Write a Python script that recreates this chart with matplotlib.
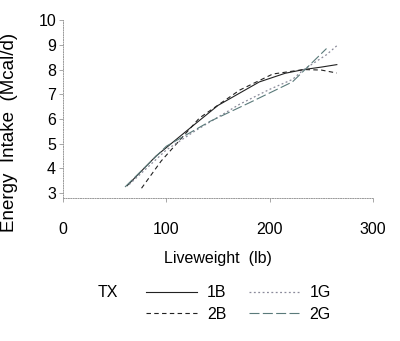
import matplotlib

matplotlib.use("Agg")
import matplotlib.pyplot as plt

# fitted intake curves per treatment, (liveweight lb, energy intake Mcal/d)
wt_1b = [62, 90, 122, 150, 190, 215, 233, 250, 265]
ei_1b = [3.3, 4.5, 5.6, 6.55, 7.5, 7.85, 8.0, 8.1, 8.2]

wt_2b = [76, 95, 132, 171, 203, 233, 250, 265]
ei_2b = [3.2, 4.3, 6.04, 7.17, 7.82, 8.0, 7.98, 7.86]

wt_1g = [64, 100, 129, 171, 200, 222, 233, 255, 266]
ei_1g = [3.35, 4.75, 5.55, 6.6, 7.2, 7.6, 8.0, 8.6, 9.0]

wt_2g = [60, 100, 142, 180, 222, 233, 255]
ei_2g = [3.25, 4.9, 5.9, 6.65, 7.5, 7.95, 8.85]

x_ticks = [0, 100, 200, 300]
y_ticks = [3, 4, 5, 6, 7, 8, 9, 10]

FONT = ["Liberation Sans", "DejaVu Sans"]

fig = plt.figure(figsize=(4.0, 3.41), dpi=100)
ax = fig.add_axes([0.1575, 0.419, 0.775, 0.522])

ax.plot(wt_1b, ei_1b, color="#222222", lw=0.8, ls="-", label="1B")
ax.plot(wt_2b, ei_2b, color="#222222", lw=0.8, ls=(0, (4, 3)), label="2B")
ax.plot(wt_1g, ei_1g, color="#8a8a9a", lw=0.9, ls=(0, (1.5, 2)), label="1G")
ax.plot(wt_2g, ei_2g, color="#5a7a7a", lw=0.8, ls=(0, (9, 3)), label="2G")

ax.set_xlim(0, 300)
ax.set_ylim(2.8, 10)
ax.set_xticks(x_ticks)
ax.set_yticks(y_ticks)
ax.set_xticklabels([str(v) for v in x_ticks], family=FONT, fontsize=11.5)
ax.set_yticklabels([str(v) for v in y_ticks], family=FONT, fontsize=11.5)
ax.tick_params(axis="both", direction="out", length=3, width=0.6, color="#999999")
ax.tick_params(axis="x", pad=14)
ax.tick_params(axis="y", pad=2)

for side in ("top", "right"):
    ax.spines[side].set_visible(False)
for side in ("left", "bottom"):
    ax.spines[side].set_linestyle((0, (1, 1.5)))
    ax.spines[side].set_color("#999999")
    ax.spines[side].set_linewidth(0.7)

ax.set_xlabel("Liveweight  (lb)", family=FONT, fontsize=11.5, labelpad=10)
ax.set_ylabel("Energy  Intake  (Mcal/d)", family=FONT, fontsize=13.5)
ax.yaxis.set_label_coords(-0.145, 0.37)

handles, labels = ax.get_legend_handles_labels()
fig.legend(
    handles, labels, ncol=2, loc="center left", bbox_to_anchor=(0.33, 0.11),
    frameon=False, prop={"family": FONT, "size": 11.5},
    handlelength=3.2, handletextpad=0.6, columnspacing=1.4, labelspacing=0.4,
)
fig.text(0.27, 0.143, "TX", family=FONT, fontsize=11.5, va="center", ha="center")

fig.savefig("out.png", dpi=100)
